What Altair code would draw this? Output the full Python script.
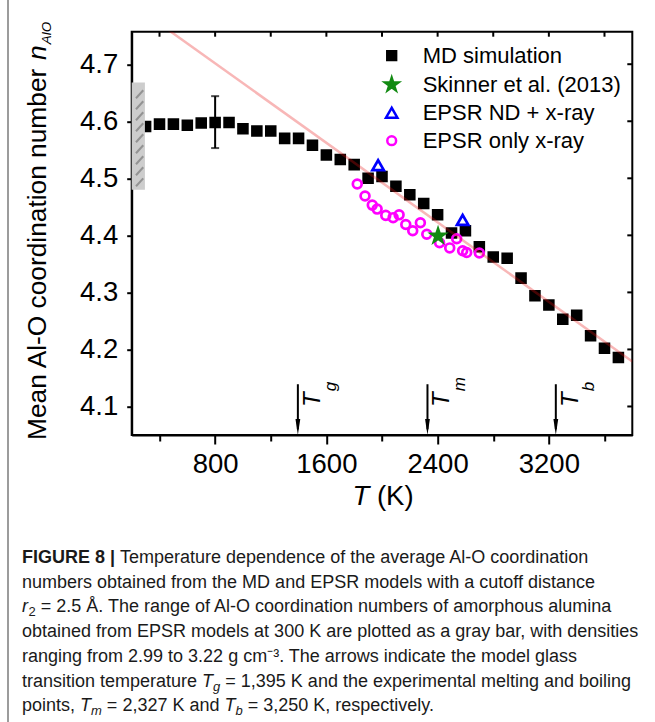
import altair as alt
import pandas as pd

# ---------------- data ----------------
md_T = [300, 400, 500, 600, 700, 800, 900, 1000, 1100, 1200, 1300, 1400, 1500,
        1600, 1700, 1800, 1900, 2000, 2100, 2200, 2300, 2400, 2500, 2600, 2700,
        2800, 2900, 3000, 3100, 3200, 3300, 3400, 3500, 3600, 3700]
md_n = [4.591, 4.595, 4.595, 4.593, 4.597, 4.598, 4.598, 4.587, 4.583, 4.583,
        4.570, 4.570, 4.558, 4.541, 4.533, 4.524, 4.500, 4.503, 4.486, 4.471,
        4.456, 4.436, 4.404, 4.408, 4.380, 4.362, 4.360, 4.325, 4.294, 4.278,
        4.253, 4.260, 4.224, 4.202, 4.186]
xray_T = [1822, 1878, 1930, 1965, 2027, 2080, 2123, 2171, 2221, 2276, 2322,
          2414, 2487, 2537, 2580, 2609, 2700]
xray_n = [4.490, 4.469, 4.453, 4.446, 4.435, 4.431, 4.436, 4.419, 4.408, 4.422,
          4.402, 4.387, 4.378, 4.394, 4.373, 4.370, 4.369]
nd_T = [1972, 2580]
nd_n = [4.523, 4.427]
skinner_T = [2403]
skinner_n = [4.399]
fit_T = [200, 3800]
fit_n = [4.806, 4.179]
err_T = [800]
err_lo = [4.553]
err_hi = [4.644]
bar_T = [200, 295]
bar_n = [4.480, 4.668]
marker_T = [1395, 2327, 3250]
marker_sub = ["g", "m", "b"]
arrow_top = 4.139
x_major = [800, 1600, 2400, 3200]
x_minor = [400, 1200, 2000, 2800, 3600]
y_major = [4.1, 4.2, 4.3, 4.4, 4.5, 4.6, 4.7]
y_minor = [4.15, 4.25, 4.35, 4.45, 4.55, 4.65, 4.75]
top_ticks_T = [400, 800, 1200, 1600, 2000, 2400, 2800, 3200, 3600]
series_names = ["MD simulation", "Skinner et al. (2013)", "EPSR ND + x-ray", "EPSR only x-ray"]

# ---------------- layout ----------------
PL, PT, PW, PH = 131.7, 31.7, 500.6, 403.3
FONT = "Liberation Sans"
STAR = ("M0,-1L0.2245,-0.309L0.9511,-0.309L0.3633,0.118L0.5878,0.809L0,0.382"
        "L-0.5878,0.809L-0.3633,0.118L-0.9511,-0.309L-0.2245,-0.309Z")

HW = {' ': 278, ',': 278, '-': 333, '.': 278, '=': 584, '(': 333, ')': 333, '|': 260,
      'A': 667, 'E': 667, 'F': 611, 'G': 778, 'I': 278, 'K': 667, 'M': 833, 'D': 722,
      'O': 778, 'P': 667, 'R': 722, 'S': 667, 'T': 611, 'U': 722, 'Å': 667,
      'a': 556, 'b': 556, 'c': 500, 'd': 556, 'e': 556, 'f': 278, 'g': 556, 'h': 556,
      'i': 222, 'j': 222, 'k': 500, 'l': 222, 'm': 833, 'n': 556, 'o': 556, 'p': 556,
      'q': 556, 'r': 333, 's': 500, 't': 278, 'u': 556, 'v': 500, 'w': 722, 'x': 500,
      'y': 500, 'z': 500}


def tw(s, size):
    return sum(HW.get(c, 556) for c in s) / 1000.0 * size


XS = alt.Scale(domain=[200, 3800], nice=False, zero=False)
YS = alt.Scale(domain=[4.05, 4.757], nice=False, zero=False)
XAX = alt.Axis(values=sorted(x_major + x_minor), title=None, grid=False, format="d",
               labelExpr="datum.value % 800 === 0 ? datum.label : ''",
               tickSize={"condition": {"test": "datum.value % 800 === 0", "value": 9}, "value": 6},
               labelPadding=6, labelFontSize=27.5, labelFlush=False)
YTEST = "abs(round(datum.value*10) - datum.value*10) < 0.000001"
YAX = alt.Axis(values=sorted(y_major + y_minor), title=None, grid=False, format=".1f",
               labelExpr="%s ? datum.label : ''" % YTEST,
               tickSize={"condition": {"test": YTEST, "value": 5}, "value": 3},
               labelPadding=9, labelFontSize=27.5)


def X(f):
    return alt.X(f, type="quantitative", scale=XS, axis=XAX)


def Y(f):
    return alt.Y(f, type="quantitative", scale=YS, axis=YAX)


rows = []
for t, n in zip(md_T, md_n):
    rows.append({"T": t, "n": n, "series": series_names[0]})
for t, n in zip(xray_T, xray_n):
    rows.append({"T": t, "n": n, "series": series_names[3]})
for t, n in zip(nd_T, nd_n):
    rows.append({"T": t, "n": n, "series": series_names[2]})
for t, n in zip(skinner_T, skinner_n):
    rows.append({"T": t, "n": n, "series": series_names[1]})
pts = pd.DataFrame(rows)

leg = alt.Legend(orient="none", legendX=249, legendY=13, title=None, labelFontSize=22,
                 labelFont=FONT, labelColor="black", symbolStrokeWidth=2.5, rowPadding=6,
                 labelOffset=20, padding=0, labelLimit=400)

points = alt.Chart(pts).mark_point(strokeWidth=2.7, opacity=1).encode(
    x=X("T"), y=Y("n"),
    shape=alt.Shape("series:N", scale=alt.Scale(domain=series_names,
                    range=["square", STAR, "triangle-up", "circle"]), legend=leg),
    fill=alt.Fill("series:N", scale=alt.Scale(domain=series_names,
                  range=["#000000", "#128a12", "transparent", "transparent"]), legend=leg),
    stroke=alt.Stroke("series:N", scale=alt.Scale(domain=series_names,
                      range=["#000000", "#128a12", "#0000ff", "#ff00ff"]), legend=leg),
    size=alt.Size("series:N", scale=alt.Scale(type="ordinal", domain=series_names,
                  range=[78, 190, 130, 78]), legend=leg),
)

fit = alt.Chart(pd.DataFrame({"T": fit_T, "n": fit_n})).mark_line(
    color="#e81010", opacity=0.3, strokeWidth=2.5, clip=True).encode(x=X("T"), y=Y("n"))

bar = alt.Chart(pd.DataFrame({"T0": [bar_T[0]], "T1": [bar_T[1]], "n0": [bar_n[0]], "n1": [bar_n[1]]})
                ).mark_rect(color="#cdcdcd").encode(x=X("T0"), x2="T1", y=Y("n0"), y2="n1")

hatch_rows = []
yy = bar_n[0] + 0.006
while yy + 0.014 < bar_n[1]:
    hatch_rows.append({"T0": 231, "T1": 283, "n0": yy, "n1": yy + 0.014})
    yy += 0.0193
hatch = alt.Chart(pd.DataFrame(hatch_rows)).mark_rule(color="#939393", strokeWidth=2).encode(
    x=X("T0"), x2="T1", y=Y("n0"), y2="n1")

errdf = pd.DataFrame({"T": err_T, "lo": err_lo, "hi": err_hi})
err = alt.Chart(errdf).mark_rule(color="black", strokeWidth=2).encode(x=X("T"), y=Y("lo"), y2="hi")
cap_lo = alt.Chart(errdf).mark_tick(color="black", thickness=2, size=8, orient="horizontal").encode(
    x=X("T"), y=Y("lo"))
cap_hi = alt.Chart(errdf).mark_tick(color="black", thickness=2, size=8, orient="horizontal").encode(
    x=X("T"), y=Y("hi"))

mk = pd.DataFrame({"T": marker_T, "sub": marker_sub})
shaft = alt.Chart(mk).mark_rule(color="black", strokeWidth=2).encode(
    x=X("T"), y=alt.datum(arrow_top), y2=alt.datum(4.06))
head = alt.Chart(mk).mark_point(shape="M-0.3,-1L0.3,-1L0,1Z", size=256, filled=True,
                                color="black", opacity=1, yOffset=-8).encode(
    x=X("T"), y=alt.datum(4.05))
TLAB_Y = 407 - PT
TFS = 24
tlab = alt.Chart(mk).mark_text(text="T", font=FONT, fontSize=TFS, fontStyle="italic",
                               angle=270, align="left", baseline="alphabetic",
                               xOffset=22, color="black").encode(x=X("T"), y=alt.value(TLAB_Y))
tsub = alt.Chart(mk).mark_text(font=FONT, fontSize=17, fontStyle="italic", angle=270,
                               align="left", baseline="alphabetic", xOffset=38,
                               color="black").encode(
    x=X("T"), y=alt.value(TLAB_Y - tw("T", TFS) - 1), text="sub:N")

top_ticks = alt.Chart(pd.DataFrame({"T": top_ticks_T})).mark_rule(color="black", strokeWidth=2).encode(
    x=X("T"), y=alt.value(0), y2=alt.value(5))
right_ticks = alt.Chart(pd.DataFrame({"n": y_major})).mark_rule(color="black", strokeWidth=2).encode(
    y=Y("n"), x=alt.value(PW), x2=alt.value(PW - 5))

one = pd.DataFrame({"a": [1]})


def txt(s, ax, ay, size, style="normal", weight="normal", angle=0, color="black"):
    # leading spaces collapse in SVG: convert them to an x shift
    lead = len(s) - len(s.lstrip(" "))
    ax = ax + tw(" " * lead, size)
    s = s.lstrip(" ")
    kw = dict(text=s, font=FONT, fontSize=size, fontStyle=style, fontWeight=weight,
              align="left", baseline="alphabetic", color=color)
    if angle:
        kw["angle"] = angle
    return alt.Chart(one).mark_text(**kw).encode(x=alt.value(ax - PL), y=alt.value(ay - PT))


texts = []
# y-axis title (rotated)
YT_FS = 26.3
yt_x, yt_y = 46, 440
s1 = "Mean Al-O coordination number "
texts.append(txt(s1, yt_x, yt_y, YT_FS, angle=270))
ny = yt_y - tw(s1, YT_FS)
texts.append(txt("n", yt_x, ny, YT_FS, style="italic", angle=270))
texts.append(txt("AlO", yt_x + 5, ny - tw("n", YT_FS) - 1, 13.5, style="italic", angle=270))
# x-axis title
xt_x, xt_y = 352.5, 505
texts.append(txt("T", xt_x, xt_y, 27.5, style="italic"))
texts.append(txt("(K)", xt_x + tw("T ", 27.5), xt_y, 27.5))

# caption
CF, SF = 18, 13
cx = 22
b0, lh = 563, 24.7
CC = "#1a1a1a"
texts.append(txt("FIGURE 8 |", cx, b0, CF, weight="bold", color=CC))
texts.append(txt("Temperature dependence of the average Al-O coordination", cx + 98, b0, CF, color=CC))
texts.append(txt("numbers obtained from the MD and EPSR models with a cutoff distance", cx, b0 + lh, CF, color=CC))
l3 = b0 + 2 * lh
texts.append(txt("r", cx, l3, CF, style="italic", color=CC))
texts.append(txt("2", cx + tw("r", CF) + 0.5, l3 + 4, SF, color=CC))
texts.append(txt(" = 2.5 Å. The range of Al-O coordination numbers of amorphous alumina",
                 cx + tw("r", CF) + 0.5 + tw("2", SF), l3, CF, color=CC))
texts.append(txt("obtained from EPSR models at 300 K are plotted as a gray bar, with densities",
                 cx, b0 + 3 * lh, CF, color=CC))
texts.append(txt("ranging from 2.99 to 3.22 g cm⁻³. The arrows indicate the model glass",
                 cx, b0 + 4 * lh, CF, color=CC))
l6 = b0 + 5 * lh
p = cx
seg = "transition temperature "
texts.append(txt(seg, p, l6, CF, color=CC)); p += tw(seg, CF)
texts.append(txt("T", p, l6, CF, style="italic", color=CC)); p += tw("T", CF)
texts.append(txt("g", p, l6 + 4, SF, style="italic", color=CC)); p += tw("g", SF)
texts.append(txt(" = 1,395 K and the experimental melting and boiling", p, l6, CF, color=CC))
l7 = b0 + 6 * lh
p = cx
seg = "points, "
texts.append(txt(seg, p, l7, CF, color=CC)); p += tw(seg, CF)
texts.append(txt("T", p, l7, CF, style="italic", color=CC)); p += tw("T", CF)
texts.append(txt("m", p, l7 + 4, SF, style="italic", color=CC)); p += tw("m", SF)
seg = " = 2,327 K and "
texts.append(txt(seg, p, l7, CF, color=CC)); p += tw(seg, CF)
texts.append(txt("T", p, l7, CF, style="italic", color=CC)); p += tw("T", CF)
texts.append(txt("b", p, l7 + 4, SF, style="italic", color=CC)); p += tw("b", SF)
texts.append(txt(" = 3,250 K, respectively.", p, l7, CF, color=CC))

border = alt.Chart(one).mark_rule(color="#9c9c9c", strokeWidth=2).encode(
    x=alt.value(8 - PL), y=alt.value(-PT), y2=alt.value(722 - PT))

chart = alt.layer(
    points, fit, bar, hatch, err, cap_lo, cap_hi, shaft, head, tlab, tsub,
    top_ticks, right_ticks, border, *texts
).properties(
    width=PW, height=PH,
    padding={"left": PL, "top": PT, "right": 655 - PL - PW, "bottom": 722 - PT - PH},
    autosize=alt.AutoSizeParams(type="none"),
    background="white",
).configure_view(stroke="black", strokeWidth=2).configure_axis(
    domainColor="black", domainWidth=2, tickColor="black", tickWidth=2,
    labelFont=FONT, labelColor="black", grid=False
)

chart.save("out.html", embed_options={"renderer": "svg", "actions": False})
